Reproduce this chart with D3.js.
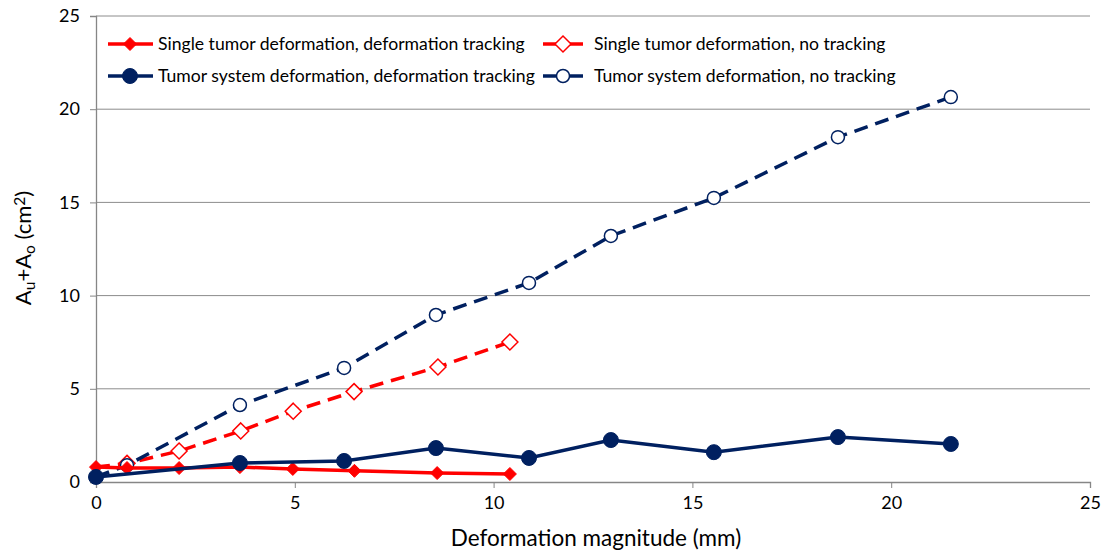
<!DOCTYPE html>
<html>
<head>
<meta charset="utf-8">
<script src="https://cdn.jsdelivr.net/npm/d3@7"></script>
<style>
  body { margin: 0; background: #fff; }
  svg { font-family: Lato, "Open Sans", sans-serif; }
</style>
</head>
<body>
<div id="chart"></div>
<script>
// data
var singleTrackX = [0, 0.78, 2.09, 3.62, 4.95, 6.5, 8.58, 10.41];
var singleTrackY = [0.8, 0.75, 0.75, 0.8, 0.7, 0.6, 0.48, 0.43];
var singleNoTrackX = [0, 0.78, 2.09, 3.64, 4.96, 6.49, 8.6, 10.41];
var singleNoTrackY = [0.8, 1.0, 1.66, 2.74, 3.8, 4.85, 6.17, 7.51];
var systemTrackX = [0, 3.62, 6.24, 8.55, 10.89, 12.95, 15.54, 18.66, 21.5];
var systemTrackY = [0.27, 1.02, 1.13, 1.82, 1.29, 2.25, 1.6, 2.41, 2.04];
var systemNoTrackX = [0, 0.78, 3.62, 6.24, 8.55, 10.89, 12.95, 15.54, 18.66, 21.5];
var systemNoTrackY = [0.27, 0.9, 4.13, 6.12, 8.96, 10.68, 13.2, 15.24, 18.5, 20.65];
var xTicks = [0, 5, 10, 15, 20, 25];
var yTicks = [0, 5, 10, 15, 20, 25];

var red = '#ff0000';
var navy = '#002060';

var width = 1102, height = 552;
var margin = {left: 96, right: 12, top: 16, bottom: 70};

var svg = d3.select('#chart').append('svg')
    .attr('width', width)
    .attr('height', height);

var x = d3.scaleLinear().domain([0, 25]).range([margin.left, width - margin.right]);
var y = d3.scaleLinear().domain([0, 25]).range([height - margin.bottom, margin.top]);

// gridlines
svg.append('g').selectAll('line')
    .data(yTicks.filter(function(d) { return d > 0; }))
    .enter().append('line')
    .attr('x1', x(0)).attr('x2', x(25))
    .attr('y1', function(d) { return y(d); })
    .attr('y2', function(d) { return y(d); })
    .attr('stroke', '#8c8c8c').attr('stroke-width', 1);

// axes
var xAxis = svg.append('g')
    .attr('transform', 'translate(0,' + y(0) + ')')
    .call(d3.axisBottom(x).tickValues(xTicks).tickSize(6).tickPadding(8));
var yAxis = svg.append('g')
    .attr('transform', 'translate(' + x(0) + ',0)')
    .call(d3.axisLeft(y).tickValues(yTicks).tickSize(6).tickPadding(10));
[xAxis, yAxis].forEach(function(a) {
  a.select('.domain').attr('stroke', '#868686').attr('stroke-width', 1.3);
  a.selectAll('.tick line').attr('stroke', '#868686');
  a.selectAll('.tick text').attr('fill', '#000').style('font-size', '18px')
    .style('font-family', 'Lato, "Open Sans", sans-serif');
});

var series = [
  {xs: singleTrackX, ys: singleTrackY, color: red, dash: null, marker: 'diamond', open: false},
  {xs: singleNoTrackX, ys: singleNoTrackY, color: red, dash: '14,8', marker: 'diamond', open: true},
  {xs: systemTrackX, ys: systemTrackY, color: navy, dash: null, marker: 'circle', open: false},
  {xs: systemNoTrackX, ys: systemNoTrackY, color: navy, dash: '14,8', marker: 'circle', open: true}
];

var line = d3.line()
    .x(function(d) { return x(d[0]); })
    .y(function(d) { return y(d[1]); });

function drawMarker(g, s, cx, cy) {
  if (s.marker === 'circle') {
    g.append('circle')
      .attr('cx', cx).attr('cy', cy)
      .attr('r', s.open ? 6.5 : 7.5)
      .attr('fill', s.open ? '#fff' : s.color)
      .attr('stroke', s.color)
      .attr('stroke-width', s.open ? 1.5 : 1);
  } else {
    var r = s.open ? 8 : 6.5;
    g.append('path')
      .attr('d', 'M' + cx + ',' + (cy - r) + 'L' + (cx + r) + ',' + cy + 'L' + cx + ',' + (cy + r) + 'L' + (cx - r) + ',' + cy + 'Z')
      .attr('fill', s.open ? '#fff' : s.color)
      .attr('stroke', s.color)
      .attr('stroke-width', s.open ? 1.5 : 1);
  }
}

// dashed series first so the solid markers sit on top at the origin
[series[1], series[3], series[0], series[2]].forEach(function(s) {
  var pts = s.xs.map(function(v, i) { return [v, s.ys[i]]; });
  var g = svg.append('g');
  g.append('path')
    .datum(pts)
    .attr('d', line)
    .attr('fill', 'none')
    .attr('stroke', s.color)
    .attr('stroke-width', 3.5)
    .attr('stroke-dasharray', s.dash);
  pts.forEach(function(p) {
    if (s.open && p[0] === 0) return; // hidden under the solid marker
    drawMarker(g, s, x(p[0]), y(p[1]));
  });
});

// legend
var legendItems = [
  {s: series[0], label: 'Single tumor deformation, deformation tracking', lx: 108, ly: 44},
  {s: series[1], label: 'Single tumor deformation, no tracking', lx: 543, ly: 44},
  {s: series[2], label: 'Tumor system deformation, deformation tracking', lx: 108, ly: 76},
  {s: series[3], label: 'Tumor system deformation, no tracking', lx: 543, ly: 76}
];
legendItems.forEach(function(it) {
  var g = svg.append('g');
  if (it.s.dash) {
    g.append('line').attr('x1', it.lx).attr('x2', it.lx + 14)
      .attr('y1', it.ly).attr('y2', it.ly)
      .attr('stroke', it.s.color).attr('stroke-width', 3.5);
    g.append('line').attr('x1', it.lx + 26).attr('x2', it.lx + 40)
      .attr('y1', it.ly).attr('y2', it.ly)
      .attr('stroke', it.s.color).attr('stroke-width', 3.5);
    drawMarker(g, {marker: it.s.marker, open: true, color: it.s.color}, it.lx + 20, it.ly);
  } else {
    g.append('line').attr('x1', it.lx).attr('x2', it.lx + 45)
      .attr('y1', it.ly).attr('y2', it.ly)
      .attr('stroke', it.s.color).attr('stroke-width', 3.5);
    drawMarker(g, {marker: it.s.marker, open: false, color: it.s.color}, it.lx + 22, it.ly);
  }
  g.append('text')
    .attr('x', it.s.dash ? it.lx + 51 : it.lx + 50)
    .attr('y', it.ly)
    .attr('dy', '0.35em')
    .style('font-size', '17.6px')
    .text(it.label);
});

// axis titles
svg.append('text')
  .attr('x', 596)
  .attr('y', 546)
  .attr('text-anchor', 'middle')
  .style('font-size', '22.5px')
  .text('Deformation magnitude (mm)');

var yt = svg.append('text')
  .attr('transform', 'translate(31,248) rotate(-90)')
  .attr('text-anchor', 'middle')
  .style('font-size', '22px');
yt.append('tspan').text('A');
yt.append('tspan').attr('baseline-shift', '-25%').style('font-size', '15.5px').text('u');
yt.append('tspan').text('+A');
yt.append('tspan').attr('baseline-shift', '-25%').style('font-size', '15.5px').text('o');
yt.append('tspan').text(' (cm');
yt.append('tspan').attr('baseline-shift', '40%').style('font-size', '15.5px').text('2');
yt.append('tspan').text(')');
</script>
</body>
</html>
